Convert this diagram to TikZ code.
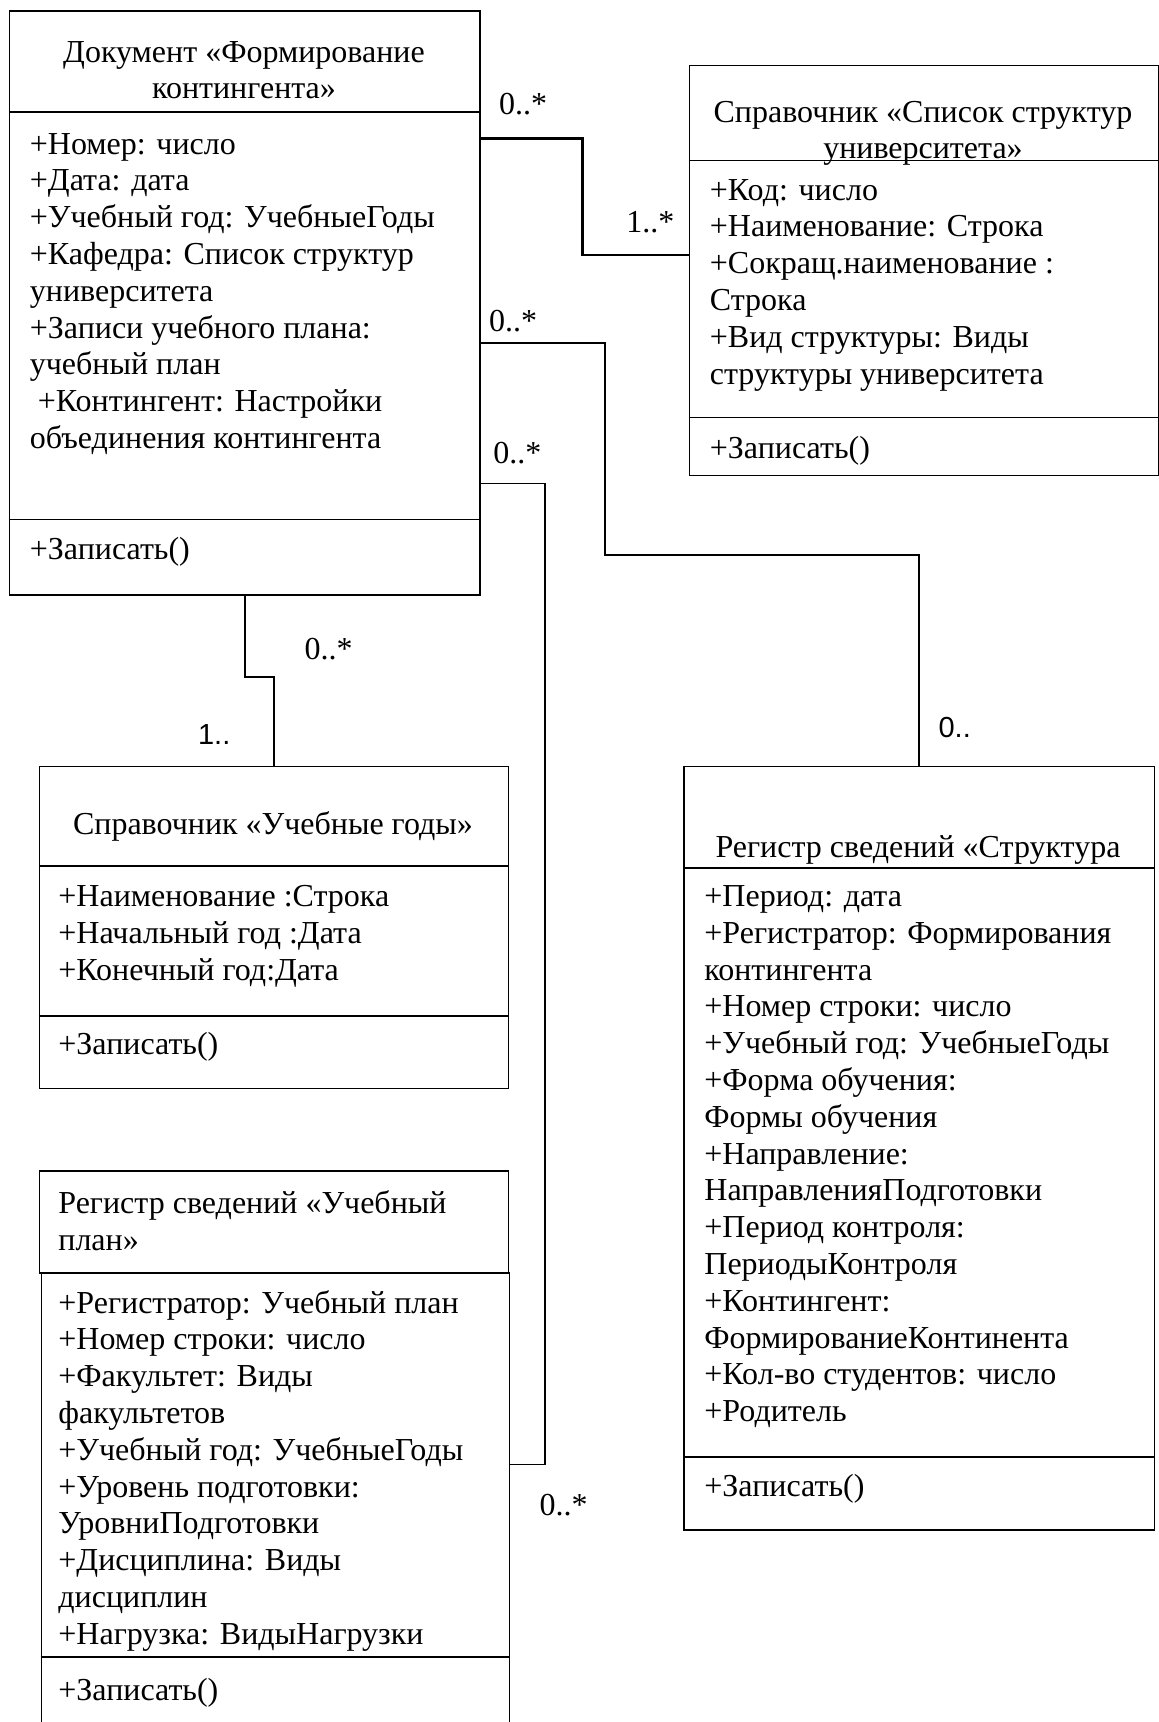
\documentclass[tikz,border=0pt]{standalone}
\usepackage{fontspec}
\setmainfont{Liberation Serif}
\newfontfamily\lsans{Liberation Sans}
\begin{document}
\begin{tikzpicture}[x=1pt,y=-1pt,
  box/.style={draw, line width=1.6pt, inner sep=0pt, anchor=north west},
  divider/.style={line width=1.6pt},
  conn/.style={line width=1.8pt},
  thickconn/.style={line width=2.6pt},
  txt/.style={anchor=base west, inner sep=0pt, font=\fontsize{32}{36.8}\selectfont},
  ttl/.style={anchor=base, inner sep=0pt, font=\fontsize{32}{36.8}\selectfont},
  mlab/.style={anchor=center, inner sep=0pt, font=\fontsize{32}{36.8}\selectfont},
  slab/.style={anchor=center, inner sep=0pt, font=\lsans\fontsize{29}{34}\selectfont}]
\useasboundingbox (0,0) rectangle (1159,1722);

% ---------- Box A: Документ ----------
\node[box, minimum width=470.2pt, minimum height=584.5pt] (A) at (8.8,9.9) {};
\draw[divider] (A.west |- {(0,112)}) -- (A.east |- {(0,112)});
\draw[divider] (A.west |- {(0,519.6)}) -- (A.east |- {(0,519.6)});
\node[ttl] (At1) at (244,62) {Документ «Формирование};
\node[ttl] (At2) at (244,98) {контингента»};
\foreach \t [count=\i from 0] in {+Номер: число, +Дата: дата, +Учебный год: УчебныеГоды,
  +Кафедра: Список структур, университета, +Записи учебного плана:, учебный план,
  \hspace{8pt}+Контингент: Настройки, объединения контингента}
  \node[txt] (Aa\i) at (29.7,{154+36.8*\i}) {\t};
\node[txt] (Am) at (29.7,559) {+Записать()};

% ---------- Box B: Справочник «Список структур университета» ----------
\node[box, minimum width=469pt, minimum height=409.8pt] (B) at (688.8,64.8) {};
\draw[divider] (B.west |- {(0,160.4)}) -- (B.east |- {(0,160.4)});
\draw[divider] (B.west |- {(0,417.5)}) -- (B.east |- {(0,417.5)});
\node[ttl] (Bt1) at (923,122) {Справочник «Список структур};
\node[ttl] (Bt2) at (923,158) {университета»};
\foreach \t [count=\i from 0] in {+Код: число, +Наименование: Строка, +Сокращ.наименование :,
  Строка, +Вид структуры: Виды, структуры университета}
  \node[txt] (Ba\i) at (709.7,{200+36.8*\i}) {\t};
\node[txt] (Bm) at (709.7,458) {+Записать()};

% ---------- Box C: Справочник «Учебные годы» ----------
\node[box, minimum width=469.1pt, minimum height=321.9pt] (C) at (38.5,765.7) {};
\draw[divider] (C.west |- {(0,865.7)}) -- (C.east |- {(0,865.7)});
\draw[divider] (C.west |- {(0,1016.2)}) -- (C.east |- {(0,1016.2)});
\node[ttl] (Ct1) at (273,834) {Справочник «Учебные годы»};
\foreach \t [count=\i from 0] in {+Наименование :Строка, +Начальный год :Дата, +Конечный год:Дата}
  \node[txt] (Ca\i) at (58.2,{906.5+36.8*\i}) {\t};
\node[txt] (Cm) at (58.2,1054) {+Записать()};

% ---------- Box D: Регистр сведений «Структура ----------
\node[box, minimum width=470.2pt, minimum height=763.5pt] (D) at (683.3,765.7) {};
\draw[divider] (D.west |- {(0,867.9)}) -- (D.east |- {(0,867.9)});
\draw[divider] (D.west |- {(0,1456.7)}) -- (D.east |- {(0,1456.7)});
\node[ttl] (Dt1) at (918,857) {Регистр сведений «Структура};
\foreach \t [count=\i from 0] in {+Период: дата, +Регистратор: Формирования, контингента,
  +Номер строки: число, +Учебный год: УчебныеГоды, +Форма обучения:, Формы обучения,
  +Направление:, НаправленияПодготовки, +Период контроля:, ПериодыКонтроля,
  +Контингент:, ФормированиеКонтинента, +Кол-во студентов: число, +Родитель}
  \node[txt] (Da\i) at (704.2,{906.5+36.8*\i}) {\t};
\node[txt] (Dm) at (704.2,1496) {+Записать()};

% ---------- Box E: Регистр сведений «Учебный план» ----------
\node[box, minimum width=469.1pt, minimum height=102.2pt] (Eh) at (38.5,1170) {};
\node[box, minimum width=468pt, minimum height=480pt] (E) at (40.6,1272.2) {};
\draw[divider] (E.west |- {(0,1656.7)}) -- (E.east |- {(0,1656.7)});
\node[txt] (Et1) at (58.2,1213) {Регистр сведений «Учебный};
\node[txt] (Et2) at (58.2,1250) {план»};
\foreach \t [count=\i from 0] in {+Регистратор: Учебный план, +Номер строки: число,
  +Факультет: Виды, факультетов, +Учебный год: УчебныеГоды, +Уровень подготовки:,
  УровниПодготовки, +Дисциплина: Виды, дисциплин, +Нагрузка: ВидыНагрузки}
  \node[txt] (Ea\i) at (58.2,{1313+36.8*\i}) {\t};
\node[txt] (Em) at (58.2,1700) {+Записать()};

% ---------- connectors ----------
\coordinate (y1a) at (0,138.4);
\coordinate (y1b) at (0,254.9);
\coordinate (y2a) at (0,342.8);
\coordinate (y3a) at (0,483.4);
\coordinate (y3b) at (0,1464.4);
\coordinate (y4) at (0,676.7);

\draw[thickconn] (A.east |- y1a) -| (582.3,254.9) -- (B.west |- y1b);
\draw[conn] (A.east |- y2a) -| (605.3,554.8) -| (D.north);
\draw[conn] (A.east |- y3a) -| (544.9,1464.4) -- (E.east |- y3b);
\draw[conn] (A.south) |- (C.north |- y4) -- (C.north);

% ---------- multiplicities ----------
\node[mlab] (m1) at (523,104.4) {0..*};
\node[mlab] (m2) at (650.4,222) {1..*};
\node[mlab] (m3) at (513,320.8) {0..*};
\node[slab] (m4) at (954.7,727.3) {0..};
\node[mlab] (m5) at (517.4,452.6) {0..*};
\node[mlab] (m6) at (563.6,1505.2) {0..*};
\node[mlab] (m7) at (328.5,649.3) {0..*};
\node[slab] (m8) at (214.2,735) {1..};
\end{tikzpicture}
\end{document}
